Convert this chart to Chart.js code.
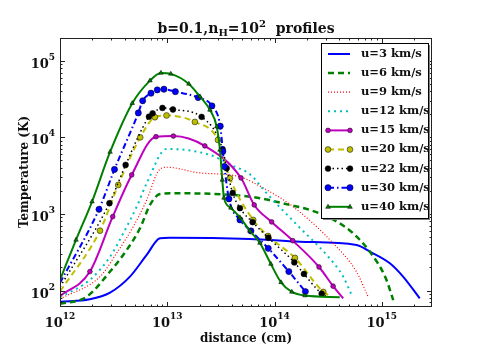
<!DOCTYPE html>
<html><head><meta charset="utf-8">
<script src="https://cdn.jsdelivr.net/npm/chart.js@4.4.1/dist/chart.umd.min.js"></script>
<style>html,body{margin:0;padding:0;background:#fff}#wrap{width:480px;height:363px;position:relative}</style>
</head><body><div id="wrap"><canvas id="c" width="480" height="363"></canvas></div>
<script>
// ---------------- data ----------------
const seriesNames = ['u=3 km/s','u=6 km/s','u=9 km/s','u=12 km/s','u=15 km/s','u=20 km/s','u=22 km/s','u=30 km/s','u=40 km/s'];

const u3_x = [1e12, 1.9e12, 2.93e12, 4.49e12, 6.43e12, 8.55e12, 1.06e13, 5.9e13, 1.73e14, 5.82e14, 7.75e14, 1.19e15, 1.58e15, 2.26e15];
const u3_y = [71.6, 77, 94, 152, 292, 482, 490, 472, 435, 394, 322, 227, 152, 79];

const u6_x = [1e12, 1.77e12, 2.93e12, 4.19e12, 5.57e12, 6.9e12, 8.55e12, 1.06e13, 5.9e13, 1.39e14, 2.14e14, 3.5e14, 5.4e14, 7.75e14, 1.09e15, 1.28e15];
const u6_y = [67, 83, 177, 339, 650, 1310, 1820, 1860, 1680, 1310, 1127, 850, 560, 320, 145, 75];

const u9_x = [1e12, 2.36e12, 3.37e12, 4.82e12, 6.43e12, 8.4e12, 9.9e12, 2.02e13, 4.44e13, 8.44e13, 1.49e14, 3.5e14, 5.82e14, 7.4e14];
const u9_y = [78, 152, 307, 682, 1520, 3750, 4070, 3430, 3130, 2060, 1245, 418, 175, 85];

const u12_x = [1e12, 1.9e12, 2.93e12, 3.89e12, 5.19e12, 6.43e12, 9.86e12, 2.5e13, 4.0e13, 5.9e13, 8.44e13, 1.73e14, 3.06e14, 4.37e14, 5.23e14];
const u12_y = [82, 138, 277, 560, 1245, 2510, 7060, 5890, 4300, 3300, 1860, 656, 292, 152, 88];

const u15_x = [1e12, 1.9e12, 3.1e12, 4.66e12, 7.85e12, 1.14e13, 2.24e13, 4.87e13, 6.47e13, 9.4e13, 1.48e14, 2.6e14, 3.52e14, 4.37e14];
const u15_y = [85, 177, 922, 3230, 10200, 10400, 7730, 2950, 1310, 787, 448, 203, 114, 79];

const u20_x = [1e12, 2.36e12, 3.49e12, 5.6e12, 7.67e12, 9.84e12, 1.81e13, 2.97e13, 3.84e13, 6.33e13, 8.7e13, 1.55e14, 2.85e14, 3.28e14];
const u20_y = [97, 605, 2390, 10000, 18300, 19300, 15900, 9250, 2920, 836, 516, 267, 96, 85];

const u22_x = [1e12, 2.89e12, 4.09e12, 6.75e12, 7.3e12, 9.02e12, 1.13e13, 2.09e13, 3.28e13, 3.58e13, 4.07e13, 4.76e13, 6.25e13, 8.77e13, 1.53e14, 1.88e14, 2.75e14, 3.0e14];
const u22_y = [111, 1380, 4370, 18600, 20600, 24200, 23100, 18500, 7000, 3950, 1880, 1190, 780, 489, 233, 165, 91, 85];

const u30_x = [1e12, 2.31e12, 3.22e12, 5.37e12, 5.9e12, 7.05e12, 8.07e12, 9.31e12, 1.19e13, 1.94e13, 2.61e13, 3.12e13, 3.3e13, 3.41e13, 3.76e13, 4.76e13, 6.03e13, 8.74e13, 1.36e14, 1.94e14];
const u30_y = [126, 1150, 3810, 20800, 30000, 37700, 41600, 42500, 39500, 33000, 25700, 14000, 6550, 4170, 1570, 836, 600, 356, 177, 97];

const u40_x = [1e12, 1.41e12, 1.99e12, 2.93e12, 4.72e12, 6.9e12, 8.73e12, 1.08e13, 1.59e13, 2.02e13, 2.5e13, 2.89e13, 3.1e13, 3.26e13, 3.38e13, 3.92e13, 4.76e13, 5.9e13, 7.31e13, 9.25e13, 1.15e14, 1.45e14, 1.92e14, 4.06e14];
const u40_y = [138, 458, 1450, 6440, 27900, 55000, 69300, 67300, 49800, 34000, 22800, 13800, 6840, 2780, 1620, 1200, 900, 600, 418, 222, 128, 96, 86, 82];

const xTickExponents = ['12','13','14','15'];
const yTickExponents = ['2','3','4','5'];
const xAxisTitle = 'distance (cm)';
const yAxisTitle = 'Temperature (K)';

// ---------------- styles ----------------
const FONT = "'DejaVu Serif', serif";
const styles = [
  {color:'#0000ff', width:2,   dash:[],            marker:null},
  {color:'#008000', width:2.5, dash:[6,4],         marker:null},
  {color:'#ff0000', width:1.2, dash:[1,2],         marker:null},
  {color:'#00bfbf', width:2,   dash:[2,4],         marker:null},
  {color:'#bf00bf', width:2,   dash:[],            marker:'circle',   r:2.4, end:false},
  {color:'#bfbf00', width:2,   dash:[6,4],         marker:'circle',   r:2.9, end:false},
  {color:'#000000', width:1.5, dash:[1.5,3],       marker:'circle',   r:2.9, end:false},
  {color:'#0000ff', width:2,   dash:[6,3,1.5,3],   marker:'circle',   r:3.1, end:true},
  {color:'#008000', width:2,   dash:[],            marker:'triangle', r:2.6, end:false}
];
const seriesX = [u3_x,u6_x,u9_x,u12_x,u15_x,u20_x,u22_x,u30_x,u40_x];
const seriesY = [u3_y,u6_y,u9_y,u12_y,u15_y,u20_y,u22_y,u30_y,u40_y];

const datasets = seriesNames.map((name, i) => {
  const st = styles[i];
  return {
    label: name,
    data: seriesX[i].map((x, k) => ({x: x, y: seriesY[i][k]})),
    borderColor: st.color,
    borderWidth: st.width,
    borderDash: st.dash,
    fill: false,
    cubicInterpolationMode: 'monotone',
    pointStyle: st.marker || 'circle',
    pointBackgroundColor: st.color,
    pointBorderColor: '#000',
    pointBorderWidth: 0.5,
    pointRadius: (ctx) => {
      if (!st.marker) return 0;
      const n = ctx.dataset.data.length;
      if (ctx.dataIndex === 0) return 0;
      if (ctx.dataIndex === n - 1 && !st.end) return 0;
      return st.r;
    },
    pointHoverRadius: 0,
    order: seriesNames.length - 1 - i
  };
});

function drawMarker(ctx, type, x, y, r, color) {
  ctx.save();
  ctx.setLineDash([]);
  ctx.fillStyle = color;
  ctx.strokeStyle = '#000';
  ctx.lineWidth = 0.5;
  ctx.beginPath();
  if (type === 'triangle') {
    ctx.moveTo(x, y - r);
    ctx.lineTo(x + r * 0.9, y + r * 0.6);
    ctx.lineTo(x - r * 0.9, y + r * 0.6);
    ctx.closePath();
  } else {
    ctx.arc(x, y, r, 0, Math.PI * 2);
  }
  ctx.fill();
  ctx.stroke();
  ctx.restore();
}

const decor = {
  id: 'decor',
  afterDraw(chart) {
    const ctx = chart.ctx;
    const a = chart.chartArea;
    const xs = chart.scales.x, ys = chart.scales.y;
    ctx.save();
    // frame
    ctx.strokeStyle = '#222';
    ctx.lineWidth = 1;
    ctx.setLineDash([]);
    ctx.strokeRect(a.left + 0.5, a.top + 0.5, a.right - a.left - 1, a.bottom - a.top - 1);
    // ticks (inward on all sides)
    ctx.beginPath();
    for (let d = 11; d <= 16; d++) {
      for (let m = 1; m <= 9; m++) {
        const v = m * Math.pow(10, d);
        if (v < xs.min || v > xs.max) continue;
        const px = Math.round(xs.getPixelForValue(v)) + 0.5;
        const L = m === 1 ? 5 : 2.5;
        ctx.moveTo(px, a.bottom); ctx.lineTo(px, a.bottom - L);
        ctx.moveTo(px, a.top); ctx.lineTo(px, a.top + L);
      }
    }
    for (let d = 1; d <= 6; d++) {
      for (let m = 1; m <= 9; m++) {
        const v = m * Math.pow(10, d);
        if (v < ys.min || v > ys.max) continue;
        const py = Math.round(ys.getPixelForValue(v)) + 0.5;
        const L = m === 1 ? 5 : 2.5;
        ctx.moveTo(a.left, py); ctx.lineTo(a.left + L, py);
        ctx.moveTo(a.right, py); ctx.lineTo(a.right - L, py);
      }
    }
    ctx.stroke();

    // tick labels
    ctx.fillStyle = '#111';
    ctx.textBaseline = 'alphabetic';
    xTickExponents.forEach(e => {
      const px = xs.getPixelForValue(Math.pow(10, +e));
      ctx.font = 'bold 13px ' + FONT;
      const w1 = ctx.measureText('10').width;
      ctx.font = 'bold 9px ' + FONT;
      const w2 = ctx.measureText(e).width;
      const x0 = px - (w1 + w2) / 2;
      ctx.font = 'bold 13px ' + FONT;
      ctx.textAlign = 'left';
      ctx.fillText('10', x0, 327);
      ctx.font = 'bold 9px ' + FONT;
      ctx.fillText(e, x0 + w1, 319);
    });
    yTickExponents.forEach(e => {
      const py = ys.getPixelForValue(Math.pow(10, +e));
      ctx.font = 'bold 9px ' + FONT;
      const w2 = ctx.measureText(e).width;
      ctx.font = 'bold 13px ' + FONT;
      const w1 = ctx.measureText('10').width;
      const xr = a.left - 5;
      ctx.textAlign = 'left';
      ctx.fillText('10', xr - w2 - w1, py + 7);
      ctx.font = 'bold 9px ' + FONT;
      ctx.fillText(e, xr - w2, py - 1);
    });

    // axis titles
    ctx.font = 'bold 12px ' + FONT;
    ctx.textAlign = 'center';
    ctx.textBaseline = 'middle';
    ctx.fillText(xAxisTitle, (a.left + a.right) / 2, 339);
    ctx.save();
    ctx.translate(25, 172);
    ctx.rotate(-Math.PI / 2);
    ctx.fillText(yAxisTitle, 0, 0);
    ctx.restore();

    // title: b=0.1,n_H=10^2  profiles
    const parts = [
      {t:'b=0.1,n', s:14, dy:0},
      {t:'H', s:10, dy:3},
      {t:'=10', s:14, dy:0},
      {t:'2', s:10, dy:-6},
      {t:'  profiles', s:14, dy:0}
    ];
    let tw = 0;
    parts.forEach(p => { ctx.font = 'bold ' + p.s + 'px ' + FONT; p.w = ctx.measureText(p.t).width; tw += p.w; });
    let tx = (a.left + a.right) / 2 - tw / 2;
    ctx.textAlign = 'left';
    ctx.textBaseline = 'alphabetic';
    parts.forEach(p => {
      ctx.font = 'bold ' + p.s + 'px ' + FONT;
      ctx.fillText(p.t, tx, 33 + p.dy);
      tx += p.w;
    });

    // legend
    const lx = 321, ly = 43, lw = 107, lh = 175;
    ctx.fillStyle = '#808080';
    ctx.fillRect(lx + 2, ly + 2, lw, lh);
    ctx.fillStyle = '#fff';
    ctx.fillRect(lx, ly, lw, lh);
    ctx.strokeStyle = '#000';
    ctx.lineWidth = 1;
    ctx.strokeRect(lx + 0.5, ly + 0.5, lw, lh);
    seriesNames.forEach((name, i) => {
      const st = styles[i];
      const yy = 54 + i * 19.1;
      ctx.save();
      ctx.strokeStyle = st.color;
      ctx.lineWidth = st.width;
      ctx.setLineDash(st.dash);
      ctx.beginPath();
      ctx.moveTo(328, yy); ctx.lineTo(350, yy);
      ctx.stroke();
      ctx.restore();
      if (st.marker) {
        drawMarker(ctx, st.marker, 328, yy, st.r, st.color);
        drawMarker(ctx, st.marker, 350, yy, st.r, st.color);
      }
      ctx.fillStyle = '#111';
      ctx.font = 'bold 11.5px ' + FONT;
      ctx.textAlign = 'left';
      ctx.textBaseline = 'middle';
      ctx.fillText(name, 361, yy);
    });
    ctx.restore();
  }
};

new Chart(document.getElementById('c'), {
  type: 'line',
  data: { datasets: datasets },
  options: {
    responsive: false,
    animation: false,
    events: [],
    layout: { padding: { top: 38, right: 48, left: 0, bottom: 0 } },
    plugins: { legend: { display: false }, tooltip: { enabled: false }, title: { display: false } },
    scales: {
      x: {
        type: 'logarithmic', min: 1e12, max: 2.94e15,
        ticks: { display: false }, grid: { display: false }, border: { display: false },
        afterFit: s => { s.height = 56; }
      },
      y: {
        type: 'logarithmic', min: 61, max: 1.98e5,
        ticks: { display: false }, grid: { display: false }, border: { display: false },
        afterFit: s => { s.width = 60; }
      }
    }
  },
  plugins: [decor]
});
</script>
</body></html>
